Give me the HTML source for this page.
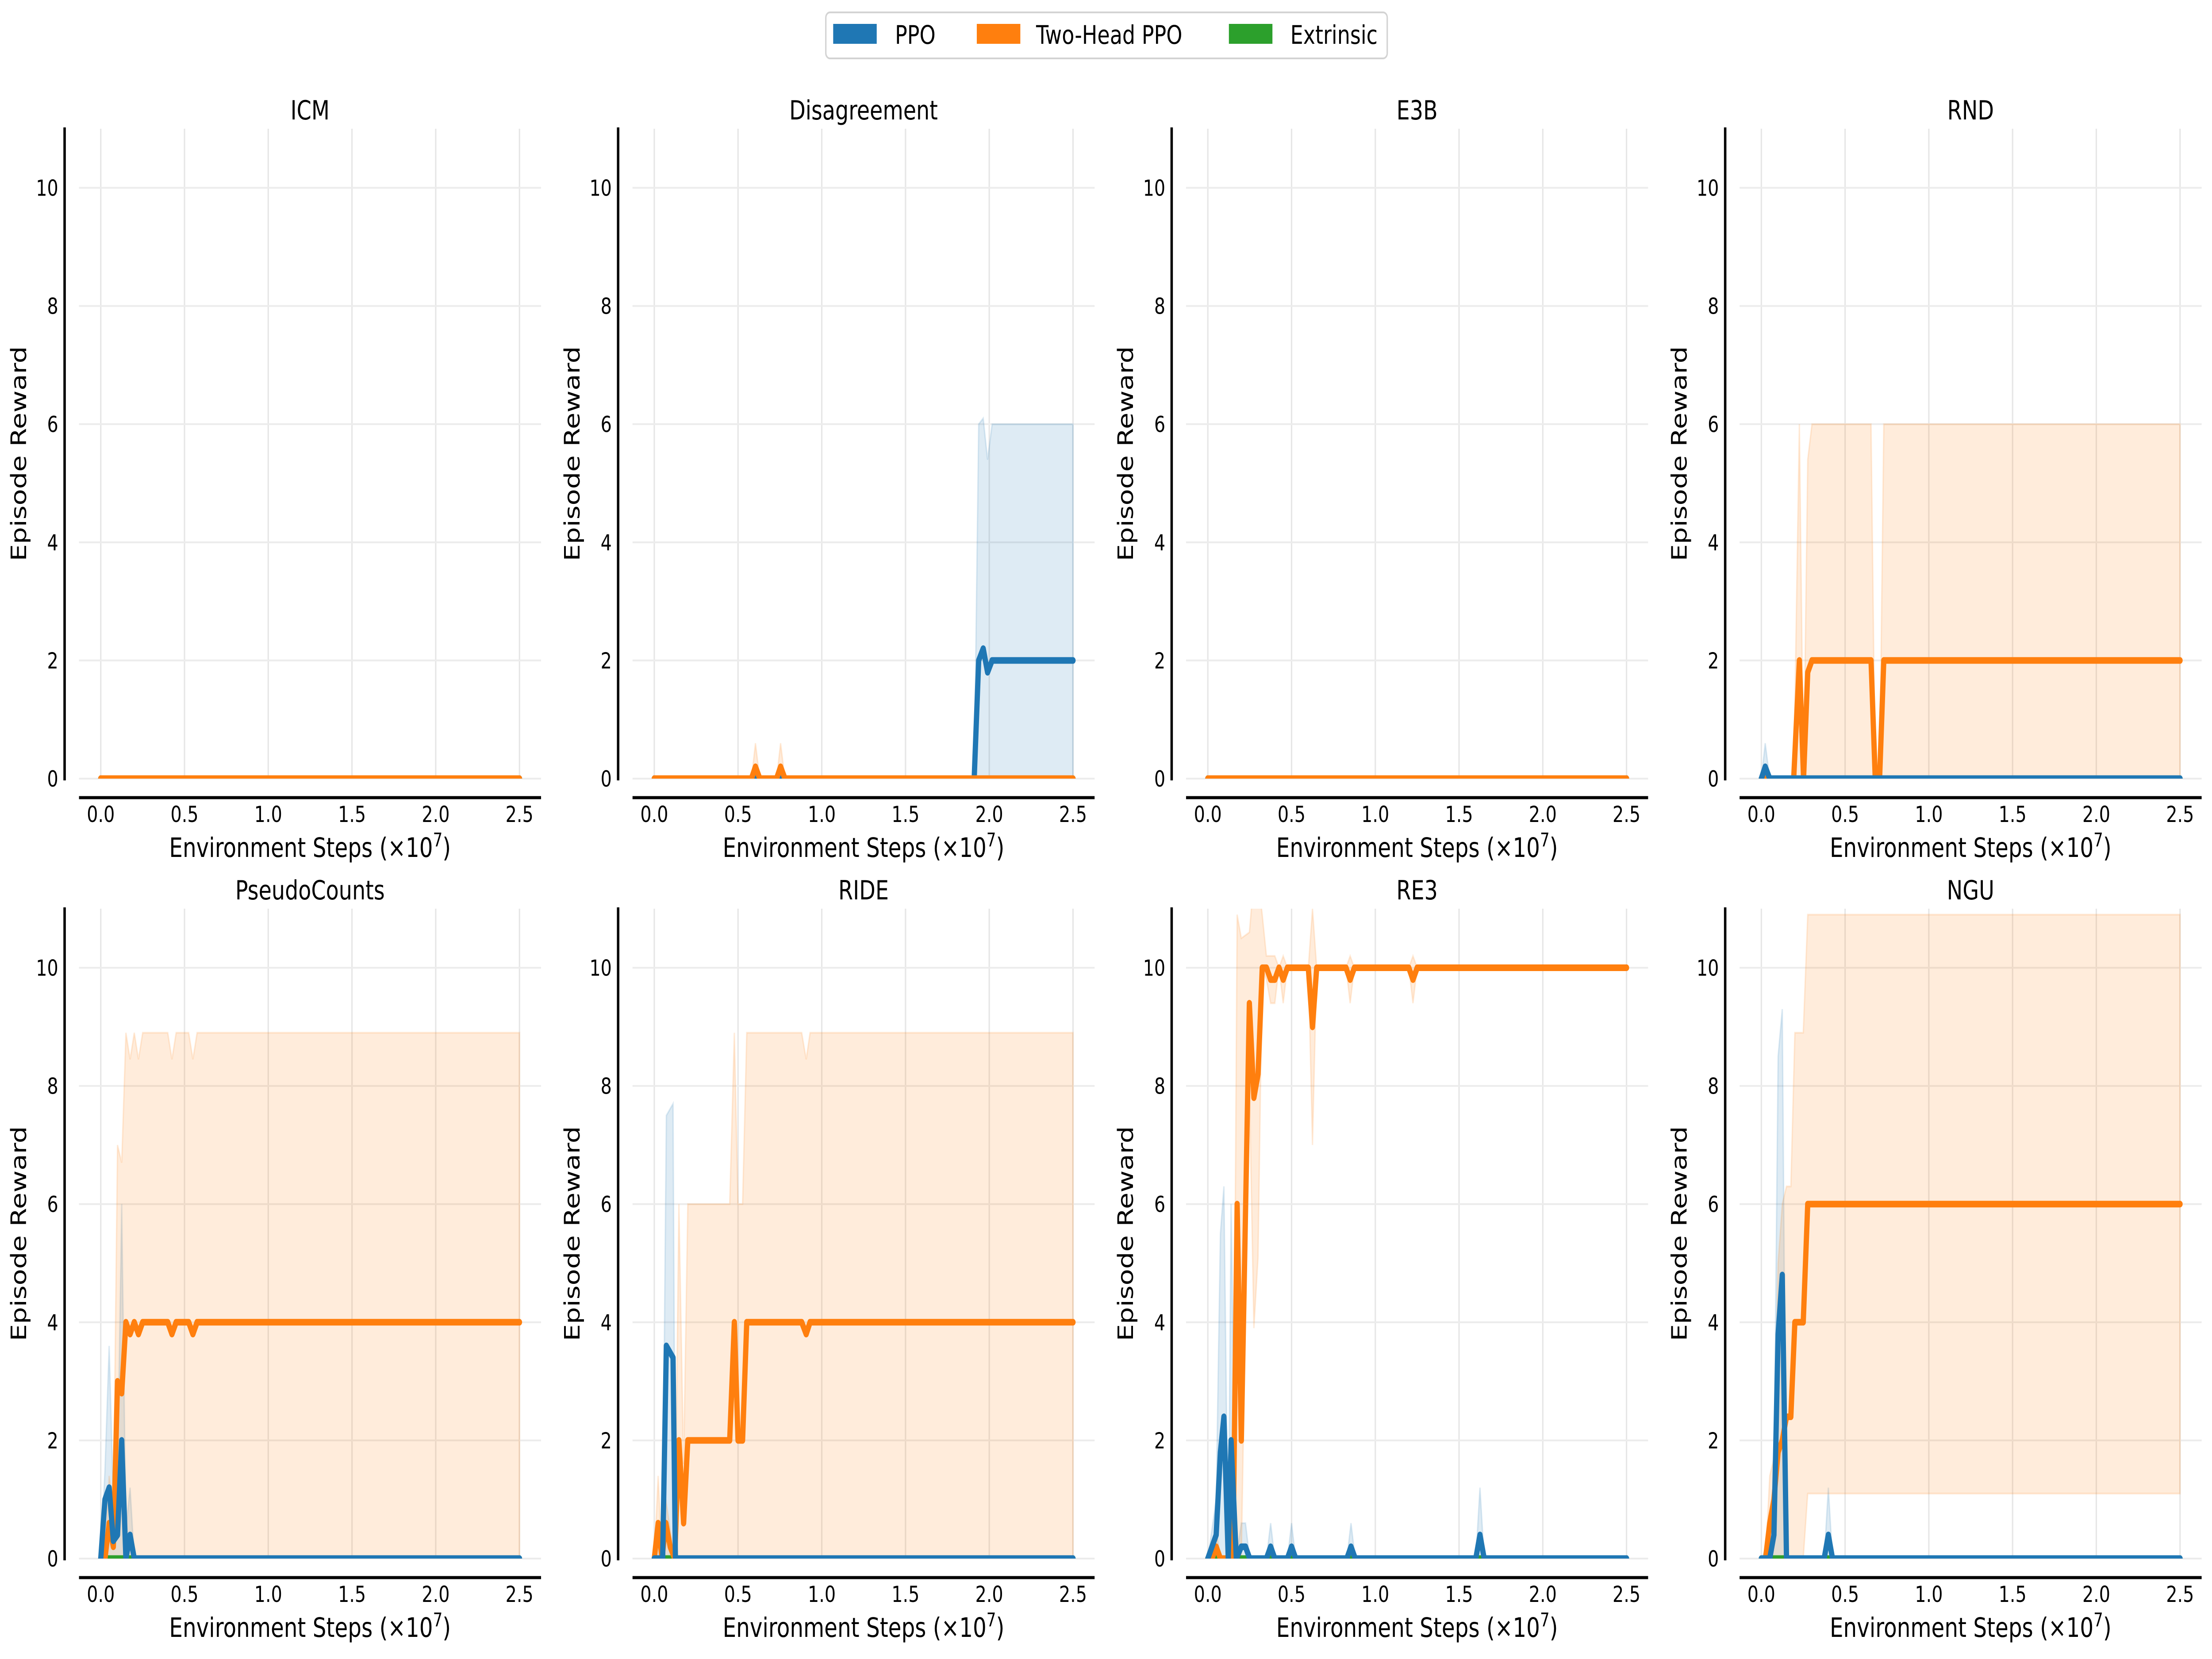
<!DOCTYPE html>
<html><head><meta charset="utf-8"><meta name="viewport" content="width=6300, initial-scale=1"><style>
html,body{margin:0;padding:0;background:#fff;overflow:hidden;width:100vw;height:100vh;}
svg{display:block;width:100vw;height:100vh;font-family:"DejaVu Sans","Liberation Sans",sans-serif;}
</style></head><body>
<svg id="chart" viewBox="0 0 6300 3750" preserveAspectRatio="none" xmlns="http://www.w3.org/2000/svg">
<g>
<rect x="2352" y="28" width="1599" height="104" rx="12" fill="#fff" stroke="#d3d3d3" stroke-width="4"/>
<rect x="2373" y="54" width="124" height="45" fill="#1f77b4"/>
<text x="2549" y="99" font-size="58">PPO</text>
<rect x="2782" y="54" width="124" height="45" fill="#ff7f0e"/>
<text x="2951" y="99" font-size="58">Two-Head PPO</text>
<rect x="3500" y="54" width="124" height="45" fill="#2ca02c"/>
<text x="3675" y="99" font-size="58">Extrinsic</text>
</g>
</svg>
<script>
// ---- data ----
const xTicks = [0, 0.5, 1.0, 1.5, 2.0, 2.5];
const xTickLabels = ["0.0", "0.5", "1.0", "1.5", "2.0", "2.5"];
const yTicks = [0, 2, 4, 6, 8, 10];
const yTickLabels = ["0", "2", "4", "6", "8", "10"];
const panelTitles = ["ICM", "Disagreement", "E3B", "RND", "PseudoCounts", "RIDE", "RE3", "NGU"];

const zeroX = [0, 2.5];
const zeroY = [0, 0];

const disPpoX = [0, 1.91, 1.937, 1.964, 1.99, 2.017, 2.5];
const disPpoM = [0, 0, 2.0, 2.2, 1.8, 2.0, 2.0];
const disPpoHi = [0, 0, 6.0, 6.1, 5.4, 6.0, 6.0];
const disTwoX = [0, 0.58, 0.604, 0.63, 0.73, 0.754, 0.78, 2.5];
const disTwoM = [0, 0, 0.2, 0, 0, 0.2, 0, 0];
const disTwoHi = [0, 0, 0.6, 0, 0, 0.6, 0, 0];

const rndPpoX = [0, 0.023, 0.05, 2.5];
const rndPpoM = [0, 0.2, 0, 0];
const rndPpoHi = [0, 0.6, 0, 0];
const rndTwoX = [0, 0.193, 0.227, 0.252, 0.277, 0.302, 0.655, 0.68, 0.706, 0.731, 2.5];
const rndTwoM = [0, 0, 2, 0, 1.8, 2, 2, 0, 0, 2, 2];
const rndTwoHi = [0, 0, 6, 0, 5.4, 6, 6, 0, 0, 6, 6];

const pcPpoX = [0, 0.025, 0.05, 0.075, 0.1, 0.125, 0.15, 0.175, 0.2, 2.5];
const pcPpoM = [0, 1.0, 1.2, 0.3, 0.4, 2.0, 0, 0.4, 0, 0];
const pcPpoHi = [0, 1.5, 3.6, 1.0, 1.4, 6.0, 0.5, 1.2, 0, 0];
const pcTwoX = [0, 0.025, 0.05, 0.075, 0.1, 0.125, 0.15, 0.175, 0.2, 0.225, 0.25, 0.4, 0.425, 0.45, 0.525, 0.55, 0.575, 2.5];
const pcTwoM = [0, 0, 0.6, 0.2, 3.0, 2.8, 4.0, 3.8, 4.0, 3.8, 4.0, 4.0, 3.8, 4.0, 4.0, 3.8, 4.0, 4.0];
const pcTwoHi = [0, 0, 1.4, 0.8, 7.0, 6.7, 8.9, 8.45, 8.9, 8.45, 8.9, 8.9, 8.45, 8.9, 8.9, 8.45, 8.9, 8.9];

const ridePpoX = [0, 0.05, 0.072, 0.112, 0.126, 2.5];
const ridePpoM = [0, 0, 3.6, 3.4, 0, 0];
const ridePpoHi = [0, 0.5, 7.5, 7.7, 0, 0];
const rideTwoX = [0, 0.023, 0.046, 0.069, 0.095, 0.122, 0.147, 0.175, 0.2, 0.45, 0.478, 0.5, 0.527, 0.552, 0.88, 0.907, 0.93, 2.5];
const rideTwoM = [0, 0.6, 0, 0.6, 0.2, 0, 2.0, 0.6, 2.0, 2.0, 4.0, 2.0, 2.0, 4.0, 4.0, 3.8, 4.0, 4.0];
const rideTwoHi = [0, 1.4, 0, 1.0, 0.5, 0, 6.0, 1.6, 6.0, 6.0, 8.9, 6.0, 6.0, 8.9, 8.9, 8.45, 8.9, 8.9];

const re3PpoX = [0, 0.05, 0.075, 0.096, 0.122, 0.139, 0.17, 0.2, 0.225, 0.25, 0.35, 0.375, 0.4, 0.475, 0.5, 0.525, 0.83, 0.855, 0.88, 1.6, 1.625, 1.65, 2.5];
const re3PpoM = [0, 0.4, 1.8, 2.4, 0, 2.0, 0, 0.2, 0.2, 0, 0, 0.2, 0, 0, 0.2, 0, 0, 0.2, 0, 0, 0.4, 0, 0];
const re3PpoHi = [0, 1.0, 5.5, 6.3, 0, 6.0, 0, 0.6, 0.6, 0, 0, 0.6, 0, 0, 0.6, 0, 0, 0.6, 0, 0, 1.2, 0, 0];
const re3TwoX = [0, 0.025, 0.05, 0.075, 0.15, 0.175, 0.2, 0.248, 0.275, 0.3, 0.325, 0.35, 0.375, 0.4, 0.425, 0.45, 0.475, 0.6, 0.625, 0.65, 0.825, 0.85, 0.875, 1.2, 1.225, 1.25, 2.5];
const re3TwoM = [0, 0, 0.2, 0, 0, 6.0, 2.0, 9.4, 7.8, 8.2, 10, 10, 9.8, 9.8, 10, 9.8, 10, 10, 9.0, 10, 10, 9.8, 10, 10, 9.8, 10, 10];
const re3TwoLo = [0, 0, 0, 0, 0, 0, 0, 8.0, 3.9, 5.1, 10, 9.8, 9.4, 9.4, 10, 9.4, 10, 10, 7.0, 10, 10, 9.4, 10, 10, 9.4, 10, 10];
const re3TwoHi = [0, 0, 0.5, 0, 0, 10.9, 10.5, 10.6, 11.5, 11.5, 10.9, 10.2, 10.2, 10.2, 10, 10.2, 10, 10, 11.0, 10, 10, 10.2, 10, 10, 10.2, 10, 10];

const nguPpoX = [0, 0.05, 0.075, 0.1, 0.125, 0.15, 0.375, 0.4, 0.425, 2.5];
const nguPpoM = [0, 0, 0.4, 3.8, 4.8, 0, 0, 0.4, 0, 0];
const nguPpoHi = [0, 0.3, 1.2, 8.5, 9.3, 0, 0, 1.2, 0, 0];
const nguTwoX = [0, 0.025, 0.05, 0.075, 0.1, 0.125, 0.15, 0.176, 0.2, 0.25, 0.277, 2.5];
const nguTwoM = [0, 0, 0.6, 1.0, 1.8, 2.0, 2.4, 2.4, 4.0, 4.0, 6.0, 6.0];
const nguTwoLo = [0, 0, 0, 0, 0, 0, 0, 0, 0, 0, 1.1, 1.1];
const nguTwoHi = [0, 0, 1.4, 1.7, 5.0, 6.0, 6.3, 6.3, 8.9, 8.9, 10.9, 10.9];

const C_PPO = "#1f77b4", C_TWO = "#ff7f0e", C_EXT = "#2ca02c";
function S(key, color, x, m, lo, hi) { return {key, color, x, m, lo, hi}; }
const panels = [
  {twoOnTop: true, series: [S("ppo", C_PPO, zeroX, zeroY, null, null), S("two-head-ppo", C_TWO, zeroX, zeroY, null, null)]},
  {twoOnTop: true, series: [S("ppo", C_PPO, disPpoX, disPpoM, null, disPpoHi), S("two-head-ppo", C_TWO, disTwoX, disTwoM, null, disTwoHi)]},
  {twoOnTop: true, series: [S("ppo", C_PPO, zeroX, zeroY, null, null), S("two-head-ppo", C_TWO, zeroX, zeroY, null, null)]},
  {twoOnTop: false, series: [S("ppo", C_PPO, rndPpoX, rndPpoM, null, rndPpoHi), S("two-head-ppo", C_TWO, rndTwoX, rndTwoM, null, rndTwoHi)]},
  {twoOnTop: false, series: [S("ppo", C_PPO, pcPpoX, pcPpoM, null, pcPpoHi), S("two-head-ppo", C_TWO, pcTwoX, pcTwoM, null, pcTwoHi)]},
  {twoOnTop: false, series: [S("ppo", C_PPO, ridePpoX, ridePpoM, null, ridePpoHi), S("two-head-ppo", C_TWO, rideTwoX, rideTwoM, null, rideTwoHi)]},
  {twoOnTop: false, series: [S("ppo", C_PPO, re3PpoX, re3PpoM, null, re3PpoHi), S("two-head-ppo", C_TWO, re3TwoX, re3TwoM, re3TwoLo, re3TwoHi)]},
  {twoOnTop: false, series: [S("ppo", C_PPO, nguPpoX, nguPpoM, null, nguPpoHi), S("two-head-ppo", C_TWO, nguTwoX, nguTwoM, nguTwoLo, nguTwoHi)]}
];

// ---- drawing ----
const NS = "http://www.w3.org/2000/svg";
const svg = document.getElementById("chart");
function mk(tag, attrs, parent) {
  const e = document.createElementNS(NS, tag);
  for (const k in attrs) e.setAttribute(k, attrs[k]);
  parent.appendChild(e);
  return e;
}
const defs = mk("defs", {}, svg);

panels.forEach((p, i) => {
  const col = i % 4, row = Math.floor(i / 4);
  const cx = col * 1576.5, ry = row * 1763;
  const axL = 225 + cx, axR = 1541 + cx, axT = 291 + ry, y0px = 1760 + ry;
  const x0px = 287 + cx, xpu = 477;
  const ypu = (y0px - axT) / 11;
  const X = v => x0px + v * xpu;
  const Y = v => y0px - v * ypu;
  const slug = panelTitles[i].toLowerCase();

  const g = mk("g", {}, svg);
  
  

  const cp = mk("clipPath", {id: "clip" + i}, defs);
  mk("rect", {x: axL, y: axT, width: axR - axL, height: y0px - axT}, cp);

  xTicks.forEach((t, k) => {
    const l = mk("line", {x1: X(t), x2: X(t), y1: axT, y2: y0px, stroke: "#e6e6e6", "stroke-width": 4}, g);
    
    
  });
  yTicks.forEach((t, k) => {
    const l = mk("line", {x1: axL, x2: axR, y1: Y(t), y2: Y(t), stroke: "#ececec", "stroke-width": 4}, g);
    
    
  });

  const plot = mk("g", {"clip-path": "url(#clip" + i + ")"}, g);
  
  

  p.series.forEach(s => {
    if (!s.hi) return;
    const lo = s.lo || s.x.map(() => 0);
    let d = "";
    s.x.forEach((xv, k) => { d += (k ? "L" : "M") + X(xv).toFixed(1) + "," + Y(s.hi[k]).toFixed(1); });
    for (let k = s.x.length - 1; k >= 0; k--) d += "L" + X(s.x[k]).toFixed(1) + "," + Y(lo[k]).toFixed(1);
    d += "Z";
    const b = mk("path", {d, fill: s.color, "fill-opacity": 0.15, stroke: s.color, "stroke-opacity": 0.15, "stroke-width": 4}, plot);
    
    
  });

  function drawLine(s, name) {
    let d = "";
    s.x.forEach((xv, k) => { d += (k ? "L" : "M") + X(xv).toFixed(1) + "," + Y(s.m[k]).toFixed(1); });
    const l = mk("path", {d, fill: "none", stroke: s.color, "stroke-width": 15, "stroke-linejoin": "round", "stroke-linecap": "round"}, plot);
    
    
  }
  drawLine({x: zeroX, m: zeroY, color: C_EXT}, "extrinsic");
  const order = p.twoOnTop ? [0, 1] : [1, 0];
  order.forEach(k => drawLine(p.series[k], p.series[k].key));

  const ys = mk("line", {x1: 184 + cx, x2: 184 + cx, y1: axT - 3, y2: y0px + 4, stroke: "#000", "stroke-width": 7}, g);
  
  
  const xs = mk("line", {x1: axL, x2: axR, y1: y0px + 43, y2: y0px + 43, stroke: "#000", "stroke-width": 7}, g);
  
  

  xTicks.forEach((t, k) => {
    const tx = mk("text", {x: X(t), y: y0px + 98, "font-size": 50, "text-anchor": "middle"}, g);
    tx.textContent = xTickLabels[k];
    
    
  });
  yTicks.forEach((t, k) => {
    const tx = mk("text", {x: 166 + cx, y: Y(t) + 18, "font-size": 50, "text-anchor": "end"}, g);
    tx.textContent = yTickLabels[k];
    
    
  });

  const xl = mk("text", {x: (axL + axR) / 2, y: y0px + 177, "font-size": 61, "text-anchor": "middle"}, g);
  
  
  xl.appendChild(document.createTextNode("Environment Steps (×10"));
  const sup = mk("tspan", {"font-size": 43, dy: -24}, xl);
  sup.textContent = "7";
  const cl = mk("tspan", {dy: 24}, xl);
  cl.textContent = ")";

  const ycx = 53 + cx, ycy = (axT + y0px) / 2;
  const yl = mk("text", {x: ycx, y: ycy, "font-size": 61, "text-anchor": "middle", "dominant-baseline": "central", transform: "rotate(-90 " + ycx + " " + ycy + ")"}, g);
  yl.textContent = "Episode Reward";
  
  

  const tt = mk("text", {x: (axL + axR) / 2, y: axT - 21, "font-size": 60, "text-anchor": "middle"}, g);
  tt.textContent = panelTitles[i];
  
  
});
</script>
</body></html>
